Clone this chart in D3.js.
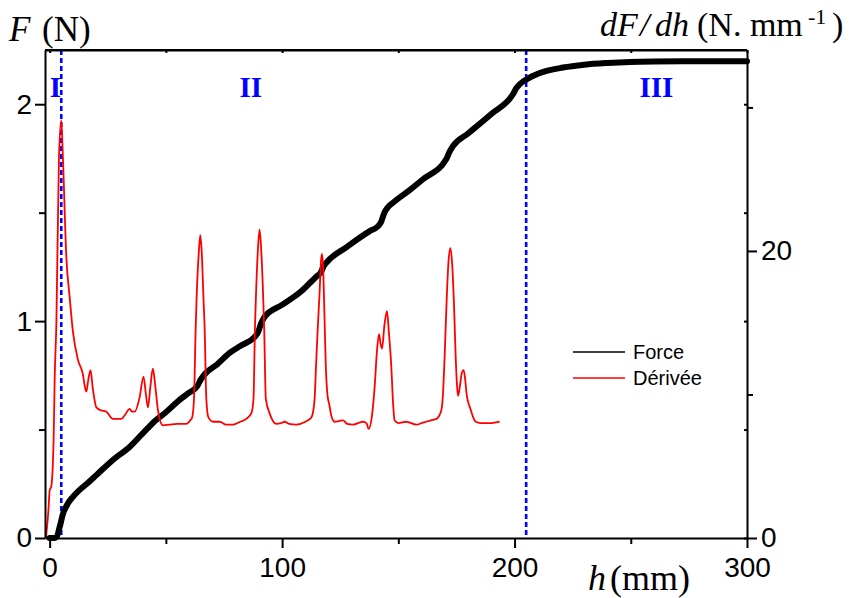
<!DOCTYPE html>
<html>
<head>
<meta charset="utf-8">
<script src="https://cdn.jsdelivr.net/npm/d3@7"></script>
<style>
  html, body { margin: 0; padding: 0; background: #fff; }
  svg { display: block; }
</style>
</head>
<body>
<svg id="chart" width="849" height="598"></svg>
<script>
// ---------- data ----------
const xTicksMajor = [0, 100, 200, 300];
const xTicksMinor = [50, 150, 250];
const yLeftTicksMajor = [0, 1, 2];
const yLeftTicksMinor = [0.5, 1.5];
const yRightTicksMajor = [0, 20];
const yRightTicksMinor = [10, 30];
const regionBounds = [5, 205];
const regionLabels = ["I", "II", "III"];
const regionLabelX = [2.5, 86.5, 261];
const legendLabels = ["Force", "Dérivée"];

// Force F (N) vs h (mm)
const forceH = [0, 2, 3, 4.3, 5.7, 7.9, 10, 12.9, 16, 20.1, 27.2, 34.4, 41.6, 45.9, 50, 55.9, 60, 63.5, 65, 66.7, 72, 77.4, 82, 88, 89.5, 91, 92.5, 100, 108, 114.7, 116.5, 118, 119.5, 127.6, 137.7, 141, 142.5, 144, 145.5, 147.7, 155, 160.6, 170.6, 172, 173.5, 180, 190, 199.3, 200.8, 202.2, 206.5, 212, 220.8, 230, 240, 249.5, 260, 280, 300];
const forceF = [0, 0, 0.005, 0.05, 0.11, 0.16, 0.19, 0.222, 0.25, 0.29, 0.36, 0.42, 0.50, 0.545, 0.58, 0.637, 0.67, 0.70, 0.73, 0.755, 0.80, 0.853, 0.885, 0.925, 0.945, 0.99, 1.02, 1.075, 1.135, 1.205, 1.222, 1.255, 1.275, 1.34, 1.415, 1.435, 1.455, 1.50, 1.525, 1.546, 1.605, 1.654, 1.746, 1.78, 1.807, 1.865, 1.955, 2.046, 2.075, 2.092, 2.123, 2.148, 2.169, 2.182, 2.19, 2.195, 2.197, 2.198, 2.198];

// Derivative dF/dh (N/mm) vs h (mm)
const derivH = [-1.6, -0.5, 0, 0.7, 1.7, 2.15, 2.9, 4, 5, 5.7, 7.2, 8.6, 10, 12.2, 14.3, 15.1, 15.8, 16.6, 17.6, 18.5, 20.1, 22, 24.4, 27.2, 30.8, 32.5, 34.4, 35.5, 36.6, 38.7, 40.4, 41.4, 42.3, 43.3, 44.4, 45.5, 46.6, 48.7, 51.6, 55, 58.8, 60.5, 61.3, 62.1, 62.8, 63.2, 64.2, 64.8, 65.4, 66.2, 66.7, 67.4, 68.3, 70.3, 73.1, 76, 78.9, 82, 84.6, 86.8, 87.7, 88.3, 88.7, 89.7, 90.3, 90.9, 91.9, 92.3, 93, 94.6, 97.5, 99.5, 101.1, 103, 106.1, 110, 112.6, 113.9, 114.6, 115.3, 116.1, 116.7, 117.1, 117.6, 118.3, 118.8, 119.5, 120.3, 121.2, 122.6, 124.5, 126.2, 128, 130.5, 134.8, 136.3, 137.2, 138.8, 139.8, 140.8, 141.7, 142.4, 143, 144, 145.1, 146, 147, 147.7, 148.4, 150, 153.4, 157.7, 160, 162, 164, 166.4, 168.5, 169.2, 170, 170.8, 171.6, 172.4, 173.2, 174, 174.7, 175.3, 175.7, 176.6, 177.3, 178.1, 178.8, 179.4, 180, 181, 182, 183.3, 186, 190, 193.6];
const derivD = [0, 2, 3.3, 3.6, 6.8, 11, 15, 26.5, 29.1, 26.5, 19.5, 16.8, 14.4, 12.4, 11.4, 10.6, 10.2, 11, 11.7, 10.5, 9.1, 8.9, 8.8, 8.3, 8.3, 8.6, 9.0, 8.8, 8.8, 9.8, 11.25, 10, 9.1, 10.5, 11.8, 10.5, 8.9, 7.85, 7.9, 7.95, 7.95, 8.2, 8.4, 9.7, 14.5, 16.6, 20, 21.1, 20, 16.6, 14.5, 9.7, 8.4, 8.1, 8.1, 7.9, 7.9, 8.1, 8.3, 8.7, 9.7, 14.5, 16.6, 20.4, 21.5, 20.4, 16.6, 14.5, 9.7, 8.7, 7.95, 8.0, 8.1, 7.95, 7.9, 8.1, 8.4, 9.5, 12, 14.5, 17, 19.2, 19.8, 19, 15, 12, 10, 9.3, 8.5, 8.1, 8.15, 8.2, 7.95, 7.9, 8.1, 8.0, 7.6, 8.7, 10.5, 13, 14.2, 13.5, 13.2, 14.8, 15.8, 14.2, 11.9, 9.5, 8.2, 8.0, 8.1, 7.9, 8.0, 8.1, 8.2, 8.3, 8.9, 10, 13, 16.6, 19.3, 20.2, 19, 16, 12.5, 10.5, 9.9, 10.7, 11.5, 11.7, 11, 10, 9.5, 9, 8.5, 8.1, 8.0, 8.0, 8.1];

// ---------- layout ----------
const svg = d3.select("#chart");
const L = 45, R = 747, T = 50, B = 538;
const x = d3.scaleLinear().domain([-2, 300]).range([L, R]);
const yL = d3.scaleLinear().domain([0, 2.25]).range([B, T]);
const yR = d3.scaleLinear().domain([0, 34]).range([B, T]);

const tickFont = "'Liberation Sans', Arial, sans-serif";
const serif = "'Liberation Serif', 'Times New Roman', serif";

// region dashed lines
svg.append("g").selectAll("line").data(regionBounds).join("line")
  .attr("x1", d => x(d)).attr("x2", d => x(d))
  .attr("y1", T).attr("y2", B)
  .attr("stroke", "#0000ff").attr("stroke-width", 2.6)
  .attr("stroke-dasharray", "5,3");

// region labels
svg.append("g").selectAll("text").data(regionLabels).join("text")
  .attr("x", (d, i) => x(regionLabelX[i]))
  .attr("y", 97)
  .attr("text-anchor", "middle")
  .attr("font-family", serif).attr("font-weight", "bold")
  .attr("font-size", 29).attr("fill", "#0000ff")
  .text(d => d);

// force line
const forceData = forceH.map((h, i) => [h, forceF[i]]);
svg.append("path").datum(forceData)
  .attr("fill", "none").attr("stroke", "#000").attr("stroke-width", 6)
  .attr("stroke-linejoin", "round").attr("stroke-linecap", "round")
  .attr("d", d3.line().x(d => x(d[0])).y(d => yL(d[1])).curve(d3.curveMonotoneX));

// derivative line
const derivData = derivH.map((h, i) => [h, derivD[i]]);
svg.append("path").datum(derivData)
  .attr("fill", "none").attr("stroke", "#ff0000").attr("stroke-width", 1.8)
  .attr("stroke-linejoin", "round")
  .attr("d", d3.line().x(d => x(d[0])).y(d => yR(d[1])).curve(d3.curveMonotoneX));

// ---------- axes ----------
function styleAxis(g) {
  g.selectAll("path.domain").attr("stroke", "#000").attr("stroke-width", 2);
  g.selectAll(".tick line").attr("stroke", "#000").attr("stroke-width", 2);
  g.selectAll(".tick text").attr("font-family", tickFont).attr("font-size", 28).attr("fill", "#000");
}
function minorStyle(g) {
  g.select(".domain").remove();
  g.selectAll(".tick line").attr("stroke", "#000").attr("stroke-width", 2);
}

// bottom
const gB = svg.append("g").attr("transform", `translate(0,${B})`)
  .call(d3.axisBottom(x).tickValues(xTicksMajor).tickSize(10).tickSizeOuter(0).tickPadding(9).tickFormat(d3.format("d")));
styleAxis(gB);
gB.selectAll(".tick text").attr("dy", "0.72em");
svg.append("g").attr("transform", `translate(0,${B})`)
  .call(d3.axisBottom(x).tickValues(xTicksMinor).tickSize(6).tickSizeOuter(0).tickFormat(""))
  .call(minorStyle);

// top mirror
svg.append("g").attr("transform", `translate(0,${T})`)
  .call(d3.axisBottom(x).tickValues(xTicksMajor.concat(xTicksMinor)).tickSize(3).tickSizeOuter(0).tickFormat(""))
  .call(styleAxis);

// left
const gLft = svg.append("g").attr("transform", `translate(${L},0)`)
  .call(d3.axisLeft(yL).tickValues(yLeftTicksMajor).tickSize(10).tickSizeOuter(0).tickPadding(3).tickFormat(d3.format("d")));
styleAxis(gLft);
svg.append("g").attr("transform", `translate(${L},0)`)
  .call(d3.axisLeft(yL).tickValues(yLeftTicksMinor).tickSize(6).tickSizeOuter(0).tickFormat(""))
  .call(minorStyle);

// right
const gRt = svg.append("g").attr("transform", `translate(${R},0)`)
  .call(d3.axisRight(yR).tickValues(yRightTicksMajor).tickSize(10).tickSizeOuter(0).tickPadding(4).tickFormat(d3.format("d")));
styleAxis(gRt);
gRt.selectAll(".tick text").attr("dy", "0.30em");
svg.append("g").attr("transform", `translate(${R},0)`)
  .call(d3.axisRight(yR).tickValues(yRightTicksMinor).tickSize(6).tickSizeOuter(0).tickFormat(""))
  .call(minorStyle);
// right mirror of left ticks (inward)
svg.append("g").attr("transform", `translate(${R},0)`)
  .call(d3.axisLeft(yL).tickValues(yLeftTicksMajor.concat(yLeftTicksMinor)).tickSize(3).tickSizeOuter(0).tickFormat(""))
  .call(minorStyle);

// top frame line
svg.append("line").attr("x1", L).attr("x2", R).attr("y1", T).attr("y2", T)
  .attr("stroke", "#000").attr("stroke-width", 2);

// ---------- axis titles ----------
const tF = svg.append("text").attr("y", 41).attr("font-family", serif).attr("font-size", 35).attr("fill", "#000");
tF.append("tspan").attr("x", 9).attr("font-style", "italic").text("F");
tF.append("tspan").attr("x", 42).text("(N)");

const tD = svg.append("text").attr("y", 36).attr("font-family", serif).attr("font-size", 34).attr("fill", "#000");
tD.append("tspan").attr("x", 600).attr("font-style", "italic").text("dF");
tD.append("tspan").attr("x", 640).attr("font-style", "italic").text("/");
tD.append("tspan").attr("x", 655).attr("font-style", "italic").text("dh");
tD.append("tspan").attr("x", 697).text("(N. mm");
tD.append("tspan").attr("x", 808).attr("dy", -12).attr("font-size", 22).text("-1");
tD.append("tspan").attr("x", 832).attr("dy", 12).text(")");

const tH = svg.append("text").attr("y", 590).attr("font-family", serif).attr("font-size", 36).attr("fill", "#000");
tH.append("tspan").attr("x", 588).attr("font-style", "italic").text("h");
tH.append("tspan").attr("x", 610).text("(mm)");

// ---------- legend ----------
const legendColors = ["#000", "#ff0000"];
const lg = svg.append("g");
legendLabels.forEach((lab, i) => {
  const yy = 352 + i * 26;
  lg.append("line").attr("x1", 573).attr("x2", 625).attr("y1", yy).attr("y2", yy)
    .attr("stroke", legendColors[i]).attr("stroke-width", 1.6);
  lg.append("text").attr("x", 633).attr("y", yy + 7)
    .attr("font-family", tickFont).attr("font-size", 20).attr("fill", "#000").text(lab);
});
</script>
</body>
</html>
